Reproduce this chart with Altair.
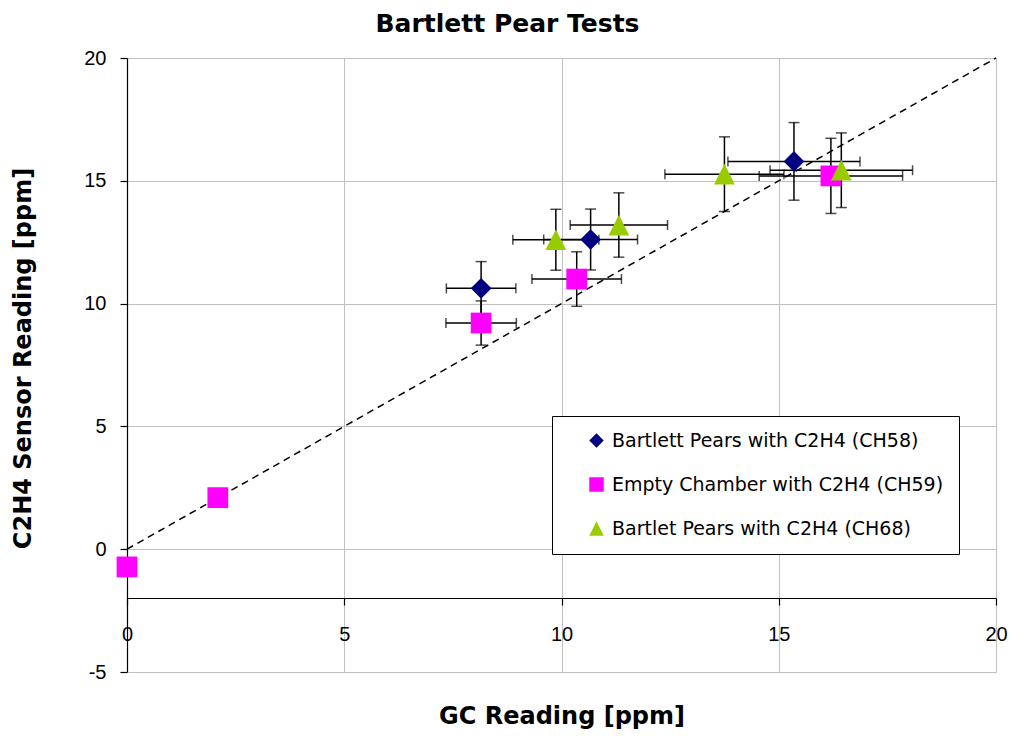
import altair as alt
import pandas as pd

FONT = "Liberation Sans"
TITLE_FONT = "DejaVu Sans"

series_names = [
    "Bartlett Pears with C2H4 (CH58)",
    "Empty Chamber with C2H4 (CH59)",
    "Bartlet Pears with C2H4 (CH68)",
]
series_colors = ["#000080", "#FF00FF", "#99CC00"]
series_shapes = ["diamond", "square", "M0,-1L1,1L-1,1Z"]

# CH58: GC reading, sensor reading and their error half-widths (ppm)
ch58_gc = [8.15, 10.67, 15.35]
ch58_sensor = [10.62, 12.61, 15.79]
ch58_gc_err = [0.80, 1.08, 1.52]
ch58_sensor_err = [1.09, 1.24, 1.58]

# CH59 (empty chamber); the two low points carry no error bars
ch59_gc = [0.0, 2.09, 8.15, 10.35, 16.20]
ch59_sensor = [-0.72, 2.10, 9.21, 11.00, 15.20]
ch59_gc_err = [None, None, 0.81, 1.03, 1.65]
ch59_sensor_err = [None, None, 0.90, 1.11, 1.53]

# CH68
ch68_gc = [9.87, 11.32, 13.75, 16.44]
ch68_sensor = [12.60, 13.20, 15.27, 15.43]
ch68_gc_err = [0.99, 1.12, 1.37, 1.64]
ch68_sensor_err = [1.24, 1.31, 1.52, 1.52]

# 1:1 reference line
ref_gc = [0, 20]
ref_sensor = [0, 20]

x_ticks = [0, 5, 10, 15, 20]
y_ticks = [-5, 0, 5, 10, 15, 20]

rows = []
for name, gx, sy, ge, se in [
    (series_names[0], ch58_gc, ch58_sensor, ch58_gc_err, ch58_sensor_err),
    (series_names[1], ch59_gc, ch59_sensor, ch59_gc_err, ch59_sensor_err),
    (series_names[2], ch68_gc, ch68_sensor, ch68_gc_err, ch68_sensor_err),
]:
    for g, s, eg, es in zip(gx, sy, ge, se):
        rows.append({"series": name, "gc": g, "sensor": s, "gc_err": eg, "sensor_err": es})
points = pd.DataFrame(rows)

err = points.dropna(subset=["gc_err"]).copy()
err["gc_lo"] = err["gc"] - err["gc_err"]
err["gc_hi"] = err["gc"] + err["gc_err"]
err["s_lo"] = err["sensor"] - err["sensor_err"]
err["s_hi"] = err["sensor"] + err["sensor_err"]

# cap positions for horizontal and vertical error bars
xcaps = pd.concat([
    pd.DataFrame({"cx": err["gc_lo"], "cy": err["sensor"]}),
    pd.DataFrame({"cx": err["gc_hi"], "cy": err["sensor"]}),
])
ycaps = pd.concat([
    pd.DataFrame({"cx": err["gc"], "cy": err["s_lo"]}),
    pd.DataFrame({"cx": err["gc"], "cy": err["s_hi"]}),
])

ref_df = pd.DataFrame({"gc": ref_gc, "sensor": ref_sensor})

x_scale = alt.Scale(domain=[0, 20], nice=False, zero=False)
y_scale = alt.Scale(domain=[-5, 20], nice=False, zero=False)

# plain hyphen for negative tick labels
hyphen_labels = "datum.value < 0 ? '-' + abs(datum.value) : '' + datum.value"

x_axis = alt.Axis(
    values=x_ticks, title="GC Reading [ppm]", offset=-74,
    grid=True, gridColor="#c0c0c0", gridWidth=1,
    domainColor="black", domainWidth=1.2, tickColor="black", tickSize=7, tickWidth=1.2,
    labelFontSize=20, labelFont=FONT, labelColor="black", labelPadding=35,
    labelBaseline="alphabetic", labelFlush=False, labelExpr=hyphen_labels,
    titleFontSize=24, titleFont=TITLE_FONT, titleFontWeight="bold", titleColor="black",
    titleY=125, titleBaseline="alphabetic",
)
y_axis = alt.Axis(
    values=y_ticks, title="C2H4 Sensor Reading [ppm]",
    grid=True, gridColor="#c0c0c0", gridWidth=1,
    domainColor="black", domainWidth=1.2, tickColor="black", tickSize=7, tickWidth=1.2,
    labelFontSize=20, labelFont=FONT, labelColor="black", labelPadding=14,
    labelFlush=False, labelExpr=hyphen_labels,
    titleFontSize=24, titleFont=TITLE_FONT, titleFontWeight="bold", titleColor="black",
    titleX=-97, titleY=300, titleBaseline="alphabetic",
)

X = lambda f: alt.X(f, type="quantitative", scale=x_scale, axis=x_axis)
Y = lambda f: alt.Y(f, type="quantitative", scale=y_scale, axis=y_axis)

line = alt.Chart(ref_df).mark_line(color="black", strokeDash=[7, 5], strokeWidth=1.5).encode(
    x=X("gc"), y=Y("sensor")
)

bar_style = dict(color="black", strokeWidth=1.5)
x_bars = alt.Chart(err).mark_rule(**bar_style).encode(
    x=X("gc_lo"), x2="gc_hi", y=Y("sensor")
)
y_bars = alt.Chart(err).mark_rule(**bar_style).encode(
    x=X("gc"), y=Y("s_lo"), y2="s_hi"
)
x_cap = alt.Chart(xcaps).mark_tick(orient="vertical", color="black", size=10, thickness=1.5).encode(
    x=X("cx"), y=Y("cy")
)
y_cap = alt.Chart(ycaps).mark_tick(orient="horizontal", color="black", size=11, thickness=1.5).encode(
    x=X("cx"), y=Y("cy")
)

legend = alt.Legend(
    title=None, orient="none", legendX=425, legendY=358,
    fillColor="white", strokeColor="black", padding=15,
    labelFontSize=19, labelFont=TITLE_FONT, labelColor="black", labelLimit=500,
    symbolSize=210, symbolOffset=20, labelOffset=6, rowPadding=24,
    symbolStrokeWidth=0,
)

marks = alt.Chart(points).mark_point(filled=True, size=430, opacity=1).encode(
    x=X("gc"),
    y=Y("sensor"),
    color=alt.Color("series:N", scale=alt.Scale(domain=series_names, range=series_colors), legend=legend),
    shape=alt.Shape("series:N", scale=alt.Scale(domain=series_names, range=series_shapes), legend=legend),
)

chart = alt.layer(line, x_bars, y_bars, x_cap, y_cap, marks).properties(
    width=869,
    height=614,
    padding={"left": 127, "top": 58, "right": 17, "bottom": 64},
    autosize=alt.AutoSizeParams(type="none"),
    title=alt.TitleParams(
        "Bartlett Pear Tests", fontSize=25, font=TITLE_FONT, fontWeight="bold", color="black",
        anchor="middle", baseline="alphabetic", offset=17, dx=-54, dy=26,
    ),
).configure_view(
    stroke="#8c8c8c", strokeWidth=2
).configure(background="white")

chart.save("out.html", embed_options={"renderer": "svg", "actions": False})
